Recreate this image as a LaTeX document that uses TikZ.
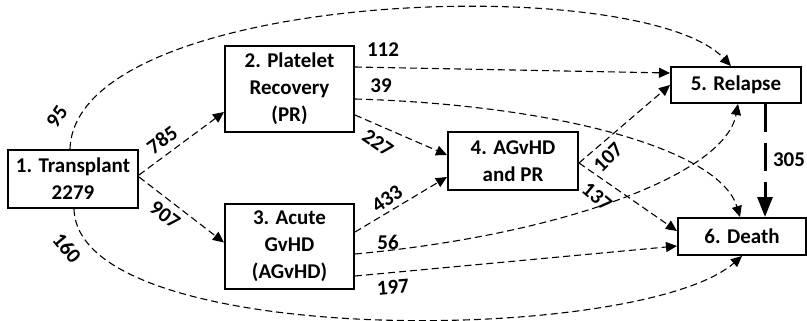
\documentclass[tikz,border=0pt]{standalone}
\usepackage{fontspec}
\setmainfont{Carlito}
\usetikzlibrary{arrows.meta,calc}
\begin{document}
\begin{tikzpicture}[x=1pt,y=-1pt,
  box/.style={draw, line width=2pt, inner sep=0pt, align=center,
    font=\fontsize{21}{27}\selectfont\bfseries},
  flow/.style={line width=1.1pt, dash pattern=on 7pt off 4pt,
    -{Triangle[width=10pt,length=11pt]}},
  major/.style={line width=3pt, dash pattern=on 28pt off 11pt,
    -{Triangle[width=15pt,length=20pt]}},
  num/.style={font=\fontsize{21}{25}\selectfont\bfseries, inner sep=0pt}]
\useasboundingbox (0,0) rectangle (807,321);

% states
\node[box, minimum width=130pt, minimum height=58pt] (n1) at (73,179) {1. Transplant\\2279};
\node[box, minimum width=129pt, minimum height=86pt] (n2) at (289.5,89) {2. Platelet\\Recovery\\(PR)};
\node[box, minimum width=129pt, minimum height=85pt] (n3) at (289.5,246.5) {3. Acute\\GvHD\\(AGvHD)};
\node[box, minimum width=130pt, minimum height=58pt] (n4) at (513,161) {4. AGvHD\\and PR};
\node[box, minimum width=130pt, minimum height=36pt] (n5) at (736,85) {5. Relapse};
\node[box, minimum width=128pt, minimum height=37pt] (n6) at (742,236.5) {6. Death};

% transitions
\draw[flow] ($(n1.east)+(0,-4)$) -- ($(n2.west)+(0,23)$);
\draw[flow] ($(n1.east)+(0,-2)$) -- ($(n3.west)+(0,-4)$);
\draw[flow] ($(n1.north)+(-3,0)$) .. controls (75,-10) and (640,-30) .. ($(n5.north)+(-5,0)$);
\draw[flow] ($(n1.south)+(1,0)$) .. controls (78,350) and (640,345) .. (n6.south);
\draw[flow] ($(n2.east)+(0,-22)$) -- ($(n5.west)+(0,-12)$);
\draw[flow] ($(n2.east)+(0,10)$) .. controls (560,105) and (720,150) .. ($(n6.north)+(-2,0)$);
\draw[flow] ($(n2.east)+(0,26)$) -- ($(n4.west)+(0,-6)$);
\draw[flow] ($(n3.east)+(0,-14.5)$) -- ($(n4.west)+(0,16)$);
\draw[flow] ($(n3.east)+(0,7.5)$) .. controls (560,235) and (725,175) .. ($(n5.south)+(2,0)$);
\draw[flow] ($(n3.east)+(0,29.5)$) -- ($(n6.west)+(0,9.5)$);
\draw[flow] ($(n4.east)+(0,2)$) -- (n5.west);
\draw[flow] ($(n4.east)+(0,2)$) -- ($(n6.west)+(0,-5.5)$);
\draw[major] ($(n5.south)+(29,0)$) -- ($(n6.north)+(23,0)$);

% counts
\node[num, rotate=55]  (c95)  at (57,117)  {95};
\node[num, rotate=-50] (c160) at (67,248)  {160};
\node[num, rotate=36]  (c785) at (162,140) {785};
\node[num, rotate=-37] (c907) at (165,215) {907};
\node[num]             (c112) at (383,50)  {112};
\node[num]             (c39)  at (381,86)  {39};
\node[num, rotate=-35] (c227) at (378,143) {227};
\node[num, rotate=35]  (c433) at (387,199) {433};
\node[num]             (c56)  at (388,242) {56};
\node[num, rotate=5]   (c197) at (393,287) {197};
\node[num, rotate=45]  (c107) at (608,157) {107};
\node[num, rotate=-40] (c137) at (597,197) {137};
\node[num]             (c305) at (789,160) {305};
\end{tikzpicture}
\end{document}
